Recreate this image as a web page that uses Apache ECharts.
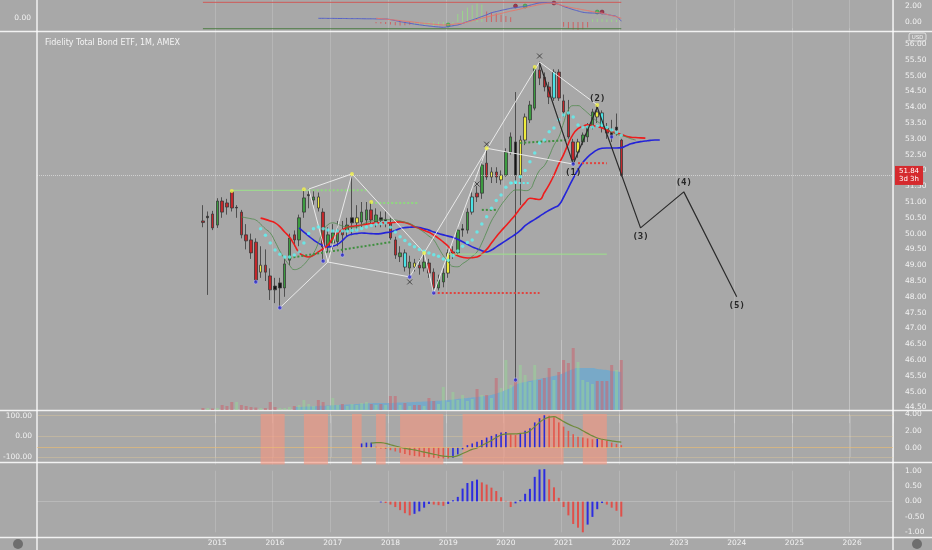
<!DOCTYPE html>
<html>
<head>
<meta charset="utf-8">
<title>Fidelity Total Bond ETF, 1M</title>
<script src="https://cdn.jsdelivr.net/npm/echarts/dist/echarts.min.js"></script>
<style>
    html, body { margin: 0; padding: 0; background: #a8a8a8; }
    #mainChart { width: 932px; height: 550px; }
</style>
</head>
<body>
<div id="mainChart"></div>
<script>
// month slots on the time axis: Dec 2011 .. Sep 2026, data starts Oct 2014
const firstIdx = 34;
const months = [];
for (let k = 0; k < 178; k++) {
    const m = 11 + k;
    months.push((2011 + Math.floor(m / 12)) + '-' + String(m % 12 + 1).padStart(2, '0'));
}

// ---- monthly candles, Oct 2014 .. Jan 2022 ----
const opens = [50.40,50.50,50.62,50.27,51.03,50.97,51.32,50.81,50.68,49.96,
    49.80,49.73,48.78,49.00,48.66,48.34,48.28,48.28,49.16,49.96,
    49.80,50.68,51.20,51.06,51.16,50.68,49.58,49.70,49.75,50.11,
    50.11,50.34,50.34,50.37,50.43,50.75,50.37,50.50,50.40,50.34,
    49.80,49.27,49.39,48.91,49.07,49.00,48.91,49.07,48.78,48.28,
    48.47,48.75,49.39,49.39,50.11,50.11,50.68,51.28,51.28,52.23,
    51.79,51.95,51.70,51.85,52.58,52.90,51.85,52.96,53.60,53.97,
    55.18,54.95,54.64,54.29,55.11,54.20,53.82,52.90,52.58,52.90,
    53.06,53.37,53.85,53.82,53.34,53.20,53.28,52.96];
const closes = [50.35,50.55,50.18,51.03,50.68,50.84,50.81,50.83,49.96,49.77,
    49.39,48.53,49.00,48.78,48.22,48.22,48.44,49.04,49.86,49.80,
    50.50,51.13,51.24,51.16,50.81,49.58,49.96,50.02,50.11,49.96,
    50.27,50.50,50.50,50.68,50.75,50.43,50.59,50.42,50.45,49.86,
    49.32,49.39,48.94,49.10,48.94,48.91,49.10,48.75,48.28,48.53,
    48.75,49.39,49.42,50.11,50.15,50.68,51.16,51.16,52.17,51.79,
    51.95,51.79,51.85,52.58,53.06,51.85,52.96,53.69,54.07,55.24,
    54.92,54.64,54.32,55.11,54.29,53.85,53.06,52.33,52.90,53.12,
    53.37,53.85,53.69,53.37,53.18,53.10,53.37,51.84];
const lows = [50.20,48.06,50.11,50.18,50.50,50.60,50.70,50.50,49.85,49.50,
    49.20,48.47,48.60,48.50,47.90,47.80,47.65,48.00,49.00,49.60,
    49.60,50.50,50.80,50.90,50.70,49.13,49.40,49.50,49.60,49.32,
    49.90,49.95,50.10,50.20,50.30,50.30,50.20,50.20,50.20,49.80,
    49.20,49.10,48.80,48.63,48.80,48.70,48.80,48.60,48.12,48.20,
    48.30,48.60,49.20,49.30,49.90,50.00,50.60,51.00,51.10,51.70,
    51.60,51.60,51.55,51.80,52.50,45.37,50.90,52.80,53.50,53.90,
    54.70,54.50,54.10,54.20,54.20,53.70,53.00,52.20,52.40,52.80,
    52.90,53.30,53.50,53.20,53.00,52.90,53.10,51.80];
const highs = [50.90,50.70,50.72,51.12,51.15,51.10,51.35,50.90,50.75,50.30,
    50.00,49.85,49.60,49.50,48.90,48.60,48.60,49.20,50.00,50.10,
    50.60,51.40,51.42,51.35,51.30,50.80,50.20,50.30,50.40,50.40,
    50.50,51.89,50.90,51.00,51.00,51.00,50.80,50.70,50.70,50.50,
    49.90,49.60,49.50,49.30,49.20,49.20,49.39,49.20,48.90,48.70,
    48.90,49.50,49.60,50.20,50.30,50.80,51.30,51.50,52.30,52.65,
    52.10,52.10,52.00,52.70,53.20,54.48,53.10,53.80,54.20,55.27,
    55.45,55.10,54.80,55.20,55.20,54.40,54.23,53.00,53.00,53.20,
    53.50,53.95,54.07,53.90,53.50,53.60,53.80,53.00];
// bar colouring of the study: r red, g green, y yellow, k black, c cyan
const candleTone = ('rkrgrrrkrr' + 'rryrrkkggr' + 'ggkgyrgggr' + 'gkyggrgkkr' + 'rgcgyrgrrg' +
    'gykgkgcrgr' + 'yryggkyygg' + 'rrrcrrrryg' + 'ggycrkkr').split('');
const volumes = [2,2,1.5,2,5,4,8,8,5,4,
    3,2.5,2,2,8,3,2,2,3,4,
    5,10,6,4,10,8,4,12,5,6,
    4,6,5,7,8,6,5,6,5,14,
    14,5,7,4,5,5,4,12,9,6,
    23,8,18,10,15,9,11,21,15,15,
    12,32,22,50,25,30,45,35,28,45,
    30,32,42,30,38,50,47,62,48,30,
    28,26,29,29,29,45,40,50];
const volMaStart = 19;
const volMa = [3,3,3.2,3.4,3.6,4,4.2,4.5,4.8,5,5.2,5.5,5.7,6,6.2,6.5,6.7,7,7,7,7,7.2,7.4,7.6,7.8,8,8.2,8.5,8.8,9,
    9.2,9.5,10,10.5,11,11.5,12,12.5,13,13.5,14,15,16.5,18,20,22,25,27,28,29,30,31,32,33,34,35,37,39,41,42,
    42,42,42,41,40.5,40,39,38.5,38];

// alligator style averages (displaced into the future)
const teethStart = 12;
const teeth = [50.49,50.45,50.40,50.34,50.22,50.05,49.89,49.65,49.40,49.30,
    49.26,49.32,49.42,49.52,49.64,49.85,50.02,50.12,50.20,50.23,
    50.25,50.27,50.30,50.32,50.34,50.34,50.34,50.34,50.36,50.37,
    50.35,50.30,50.22,50.16,50.10,50.04,49.95,49.85,49.73,49.60,
    49.40,49.30,49.25,49.23,49.24,49.26,49.36,49.50,49.70,49.90,
    50.08,50.25,50.42,50.60,50.80,50.98,51.12,51.10,51.08,51.30,
    51.55,51.85,52.20,52.50,52.85,53.15,53.32,53.40,53.44,53.42,
    53.38,53.34,53.28,53.22,53.18,53.14,53.08,53.05,53.04,53.03,53.02];
const jawStart = 20;
const jaw = [50.18,50.05,49.92,49.80,49.70,49.62,49.58,49.60,49.66,49.78,
    49.92,49.98,50.00,50.02,50.01,50.00,49.99,50.00,50.03,50.05,
    50.10,50.16,50.19,50.20,50.21,50.19,50.15,50.11,50.05,50.00,
    49.96,49.92,49.88,49.82,49.74,49.66,49.58,49.52,49.46,49.42,
    49.48,49.58,49.68,49.78,49.88,49.98,50.10,50.25,50.36,50.45,
    50.55,50.65,50.74,50.82,50.90,51.15,51.45,51.75,52.02,52.25,
    52.42,52.55,52.65,52.70,52.71,52.71,52.71,52.72,52.78,52.84,
    52.88,52.91,52.93,52.95,52.96,52.96];
const lipsStart = 8;
const lips = [50.53,50.50,50.47,50.43,50.30,50.15,50.02,49.75,49.45,49.20,
    49.00,48.86,48.90,49.02,49.20,49.38,49.70,50.10,50.28,50.34,
    50.30,50.24,50.21,50.20,50.21,50.28,50.35,50.39,50.42,50.43,
    50.44,50.44,50.43,50.40,50.36,50.32,50.24,50.14,50.04,49.92,
    49.80,49.55,49.30,49.10,48.96,48.95,49.05,49.15,49.28,49.42,
    49.70,50.05,50.40,50.65,50.90,51.10,51.28,51.38,51.38,51.36,
    51.40,51.70,52.00,52.15,52.45,52.80,53.05,53.50,53.92,54.05,
    54.05,53.95,53.82,53.68,53.55,53.45,53.32,53.22,53.15,53.10,
    53.06,53.00,52.96];
const cyanStart = 12;
const cyanDots = [50.15,49.95,49.70,49.48,49.35,49.26,49.26,49.32,49.42,49.70,
    50.00,50.15,50.21,50.15,50.11,50.08,50.08,50.08,50.08,50.10,
    50.11,50.16,50.21,50.26,50.30,50.32,50.34,50.20,50.05,49.90,
    49.78,49.66,49.58,49.50,49.44,49.39,49.33,49.28,49.20,49.16,
    49.30,49.45,49.60,49.72,49.80,50.05,50.30,50.53,50.80,51.05,
    51.22,51.47,51.60,51.63,51.80,52.00,52.27,52.55,52.87,52.96,
    53.22,53.34,53.60,53.75,53.82,53.69,53.44,53.37,53.37,53.37,
    53.40,53.44,53.36,53.28,53.20,53.12];

// level lines: [from month, to month, start price, end price, kind]
const levels = [
    [6, 22, 51.37, 51.37, 'lime'],
    [22, 34, 51.37, 51.37, 'limeDot'],
    [35, 45, 50.97, 50.97, 'limeDot'],
    [51, 84, 49.35, 49.35, 'lime'],
    [18, 39, 49.23, 49.73, 'greenDot'],
    [58, 61, 50.75, 50.75, 'greenDot'],
    [66, 76, 52.87, 52.96, 'greenDot'],
    [64, 68, 51.60, 51.60, 'cyanDot'],
    [48, 70, 48.12, 48.12, 'redDot'],
    [78, 84, 52.23, 52.23, 'redDot']
];
// pattern legs between pivots: [month, price] pairs
const patternLegs = [
    [[16, 47.65], [26, 49.10], [31, 51.89]],
    [[22, 51.41], [26, 49.10]],
    [[22, 51.41], [31, 51.89]],
    [[26, 49.10], [43, 48.63]],
    [[31, 51.89], [46, 49.39], [48, 48.12], [59, 52.70]],
    [[43, 48.63], [70, 55.43]],
    [[59, 52.70], [77, 52.20]],
    [[70, 55.43], [82, 54.07]]
];
const waveMonths = [70, 77, 82, 91, 100, 111];
const wavePrices = [55.40, 52.20, 54.00, 50.18, 51.32, 48.00];
const waveNames = ['', '(1)', '(2)', '(3)', '(4)', '(5)'];
const pivotHighs = [[6, 51.35], [21, 51.40], [31, 51.89], [35, 51.00], [46, 49.39], [59, 52.70], [69, 55.27], [82, 54.07]];
const pivotLows = [[11, 48.47], [16, 47.65], [25, 49.13], [29, 49.32], [43, 48.63], [48, 48.12], [65, 45.37], [77, 52.20], [85, 53.06]];
const crossMarks = [[43, 48.47], [57, 51.57], [59, 52.83], [70, 55.62]];
const lastPrice = 51.84;

// ---- top oscillator ----
const topUpper = 2.46, topLower = -0.84;
const topBlueStart = 24;
const topBlue = [0.46,0.46,0.45,0.45,0.44,0.44,0.43,0.42,0.42,0.41,
    0.40,0.40,0.39,0.38,0.37,0.30,0.18,0.05,-0.06,-0.16,
    -0.26,-0.35,-0.43,-0.50,-0.57,-0.62,-0.66,-0.58,-0.47,-0.37,
    -0.18,0.05,0.25,0.46,0.68,0.90,1.15,1.30,1.45,1.58,
    1.71,1.80,1.88,1.96,2.10,2.25,2.38,2.41,2.39,2.35,
    2.20,1.95,1.75,1.55,1.38,1.22,1.15,1.12,1.10,1.05,
    0.95,0.82,0.68,0.10];
const topSalmonStart = 36;
const topSalmon = [0.46,0.42,0.36,0.30,0.24,0.17,0.10,0.04,-0.03,-0.10,
    -0.16,-0.22,-0.28,-0.33,-0.37,-0.34,-0.28,-0.22,-0.16,0.00,
    0.15,0.32,0.48,0.62,0.76,0.92,1.07,1.22,1.36,1.48,
    1.62,1.78,1.92,2.05,2.18,2.28,2.34,2.30,2.18,2.02,
    1.88,1.75,1.65,1.53,1.42,1.30,1.18,1.10,0.95,0.80,
    0.64,0.46];
const topGreenA = [-0.35,-0.4,-0.45,-0.5,-0.5,-0.45,-0.4,-0.35,-0.3,1.0,1.4,1.8,2.1,2.3,2.2]; // from month 44
const topGreenB = [0.35,0.4,0.4,0.35,0.3,0.25];                                            // from month 81
const topRedA = [-0.15,-0.2,-0.25,-0.3,-0.4,-0.45,-0.4,-0.35];                             // from month 36
const topRedB = [1.3,1.2,1.05,0.9,0.75,0.6];                                                 // from month 59
const topRedC = [-0.6,-0.8,-0.95,-1.0,-0.9,-0.7];                                            // from month 75
const topDotsGreen = [[51, -0.37], [67, 2.0], [82, 1.25]];
const topDotsRed = [[65, 2.0], [73, 2.37], [83, 1.25]];

// ---- lower panels ----
const histStart = 33;
const hist = [0.5,0.6,0.6,0.1,-0.1,-0.15,-0.3,-0.45,-0.6,-0.75,
    -0.9,-1.0,-1.05,-1.1,-1.15,-1.2,-1.25,-1.28,-1.3,-1.2,
    -0.8,-0.2,0.3,0.5,0.7,0.9,1.2,1.4,1.6,1.8,
    1.85,1.6,1.5,1.7,2.0,2.3,3.0,3.5,3.85,3.8,
    3.6,3.0,2.5,2.0,1.6,1.3,1.2,1.1,1.0,1.05,
    0.9,0.8,0.6,0.45,0.3];
const signalStart = 35;
const signal = [0.55,0.6,0.6,0.5,0.35,0.2,0.05,-0.08,-0.18,-0.27,
    -0.4,-0.52,-0.65,-0.78,-0.9,-1.0,-1.05,-1.07,-0.95,-0.7,
    -0.45,-0.2,-0.04,0.25,0.55,0.85,1.2,1.5,1.62,1.65,
    1.65,1.7,1.75,2.0,2.5,3.0,3.4,3.62,3.68,3.45,
    3.1,2.8,2.55,2.34,2.0,1.7,1.4,1.15,1.0,0.9,
    0.8,0.71,0.65];
const pinkZones = [[12, 17], [21, 26], [31, 33], [36, 38], [41, 50], [54, 75], [79, 84]];
const oscStart = 37;
const osc = [-0.03,-0.05,-0.1,-0.18,-0.28,-0.38,-0.45,-0.4,-0.32,-0.2,
    -0.08,-0.1,-0.12,-0.14,-0.08,0.04,0.15,0.42,0.6,0.66,
    0.71,0.62,0.55,0.45,0.34,0.14,0.02,-0.18,-0.06,0.05,
    0.25,0.41,0.8,1.04,1.05,0.72,0.46,0.12,-0.18,-0.45,
    -0.73,-0.85,-1.0,-0.75,-0.5,-0.25,-0.05,-0.1,-0.2,-0.3,
    -0.49];

// helpers
function place(values, start) {
    return values.map((v, j) => [firstIdx + start + j, v]);
}
function pt(p) {
    return [firstIdx + p[0], p[1]];
}
function isYearStart(idx, val) {
    return val.slice(5) === '01' && Number(val.slice(0, 4)) >= 2015;
}
function risingColors(values, start, upColor, downColor) {
    return values.map((v, j) => ({
        value: [firstIdx + start + j, v],
        itemStyle: {color: (j === 0 || v >= values[j - 1]) ? upColor : downColor}
    }));
}

const labelFont = {color: '#f2f2f2', fontSize: 7.5, fontFamily: 'DejaVu Sans'};
const toneFill = {r: '#c3272b', g: '#3c9b40', y: '#efec3c', k: '#141414', c: '#4be3e6'};
const levelStyle = {
    lime: {color: '#9be28a', type: 'solid', width: 1},
    limeDot: {color: '#8fd97e', type: [2, 2], width: 2},
    greenDot: {color: '#3f8f3f', type: [2, 2], width: 2},
    cyanDot: {color: '#5ef0f0', type: [2, 2], width: 2},
    redDot: {color: '#e0443f', type: [2, 2], width: 2}
};

function makeXAxis(gridIndex, withLabels) {
    return {
        type: 'category', gridIndex: gridIndex, data: months, boundaryGap: true,
        axisLine: {show: false}, axisTick: {show: false},
        axisLabel: withLabels ? Object.assign({interval: isYearStart, formatter: v => v.slice(0, 4), margin: 7}, labelFont) : {show: false},
        splitLine: {show: true, interval: isYearStart, lineStyle: {color: 'rgba(255,255,255,0.17)', width: 1}}
    };
}

const grids = [
    {left: 37, right: 39, top: 0, height: 30},
    {left: 37, right: 39, top: 28.2, height: 395},
    {left: 37, right: 39, top: 340, height: 70},
    {left: 37, right: 39, top: 414, height: 50.5},
    {left: 37, right: 39, top: 415.7, height: 41.3},
    {left: 37, right: 39, top: 470.7, height: 61.6}
];

const yAxes = [
    {type: 'value', gridIndex: 0, position: 'right', min: -1, max: 2.75, interval: 1,
        axisLabel: Object.assign({margin: 12, showMaxLabel: false, formatter: v => (v === 0 || v === 2) ? v.toFixed(2) : ''}, labelFont),
        splitLine: {show: false}, axisLine: {show: false}, axisTick: {show: false}},
    {type: 'value', gridIndex: 0, position: 'left', min: -1, max: 1.44, interval: 1,
        axisLabel: Object.assign({margin: 6, showMaxLabel: false, formatter: v => v === 0 ? '0.00' : ''}, labelFont),
        splitLine: {show: false}, axisLine: {show: false}, axisTick: {show: false}},
    {type: 'value', gridIndex: 1, position: 'right', min: 44, max: 56.5, interval: 0.5,
        axisLabel: Object.assign({margin: 12, showMinLabel: false, showMaxLabel: false, formatter: v => v.toFixed(2)}, labelFont),
        splitLine: {show: false}, axisLine: {show: false}, axisTick: {show: false}},
    {type: 'value', gridIndex: 2, min: 0, max: 70, show: false},
    {type: 'value', gridIndex: 3, position: 'right', min: -2, max: 4, interval: 2,
        axisLabel: Object.assign({margin: 12, showMinLabel: false, formatter: v => v.toFixed(2)}, labelFont),
        splitLine: {show: false}, axisLine: {show: false}, axisTick: {show: false}},
    {type: 'value', gridIndex: 4, position: 'left', min: -100, max: 100, interval: 100,
        axisLabel: Object.assign({margin: 6, formatter: v => v.toFixed(2)}, labelFont),
        splitLine: {show: true, lineStyle: {color: 'rgba(235,205,150,0.35)', width: 1}},
        axisLine: {show: false}, axisTick: {show: false}},
    {type: 'value', gridIndex: 5, position: 'right', min: -1, max: 1, interval: 0.5,
        axisLabel: Object.assign({margin: 12, formatter: v => v.toFixed(2)}, labelFont),
        splitLine: {show: false}, axisLine: {show: false}, axisTick: {show: false}}
];

const series = [];

// top oscillator panel
series.push({type: 'line', xAxisIndex: 0, yAxisIndex: 0, symbol: 'none', silent: true,
    data: [[firstIdx, topUpper], [firstIdx + 87, topUpper]], lineStyle: {color: '#cf5a58', width: 1}});
series.push({type: 'line', xAxisIndex: 0, yAxisIndex: 0, symbol: 'none', silent: true,
    data: [[firstIdx, topLower], [firstIdx + 87, topLower]], lineStyle: {color: '#4d7d45', width: 1}});
series.push({type: 'bar', xAxisIndex: 0, yAxisIndex: 0, barWidth: 1, silent: true,
    data: place(topGreenA, 44).concat(place(topGreenB, 81)), itemStyle: {color: 'rgba(150,225,130,0.8)'}});
series.push({type: 'bar', xAxisIndex: 0, yAxisIndex: 0, barWidth: 1, barGap: '-100%', silent: true,
    data: place(topRedA, 36).concat(place(topRedB, 59), place(topRedC, 75)), itemStyle: {color: 'rgba(215,80,80,0.8)'}});
series.push({type: 'line', xAxisIndex: 0, yAxisIndex: 0, symbol: 'none', smooth: true, silent: true,
    data: place(topBlue, topBlueStart), lineStyle: {color: '#5460c8', width: 1}});
series.push({type: 'line', xAxisIndex: 0, yAxisIndex: 0, symbol: 'none', smooth: true, silent: true,
    data: place(topSalmon, topSalmonStart), lineStyle: {color: '#e5786c', width: 1}});
series.push({type: 'scatter', xAxisIndex: 0, yAxisIndex: 0, symbolSize: 4, silent: true,
    data: topDotsGreen.map(pt), itemStyle: {color: '#3fbf4a', borderColor: '#2a6e2a', borderWidth: 0.5}});
series.push({type: 'scatter', xAxisIndex: 0, yAxisIndex: 0, symbolSize: 4, silent: true,
    data: topDotsRed.map(pt), itemStyle: {color: '#9a1e3a', borderColor: '#5a1020', borderWidth: 0.5}});

// volume with its average
series.push({type: 'line', xAxisIndex: 2, yAxisIndex: 3, symbol: 'none', smooth: true, silent: true, z: 1,
    data: place(volMa, volMaStart), lineStyle: {width: 0}, areaStyle: {color: 'rgba(88,170,222,0.85)'}});
series.push({type: 'bar', xAxisIndex: 2, yAxisIndex: 3, barWidth: 3, silent: true, z: 2,
    data: volumes.map((v, i) => ({
        value: [firstIdx + i, v],
        itemStyle: {color: closes[i] >= opens[i] ? 'rgba(150,215,150,0.5)' : 'rgba(200,105,115,0.6)'}
    }))});

// price
series.push({
    type: 'candlestick', xAxisIndex: 1, yAxisIndex: 2, barWidth: 3, z: 3, silent: true,
    encode: {x: 0, y: [1, 2, 3, 4]},
    data: opens.map((o, i) => {
        const fill = toneFill[candleTone[i]];
        return {
            value: [firstIdx + i, o, closes[i], lows[i], highs[i]],
            itemStyle: {color: fill, color0: fill, borderColor: '#3a3a3a', borderColor0: '#3a3a3a', borderWidth: 0.8}
        };
    }),
    markLine: {
        symbol: 'none', silent: true, animation: false,
        data: [{yAxis: lastPrice}],
        lineStyle: {color: 'rgba(240,240,240,0.55)', type: 'dotted', width: 1},
        label: {position: 'end', distance: 2, formatter: '51.84\n3d 3h', color: '#ffffff',
            backgroundColor: '#d52a2e', padding: [2, 4, 1, 4], fontSize: 7, lineHeight: 8, fontFamily: 'DejaVu Sans'}
    }
});
[[jaw, jawStart, '#2424d8', 1.6], [teeth, teethStart, '#ee1c1c', 1.6], [lips, lipsStart, '#4f8a4c', 0.8]].forEach(s => {
    series.push({type: 'line', xAxisIndex: 1, yAxisIndex: 2, symbol: 'none', smooth: true, silent: true, z: 4,
        data: place(s[0], s[1]), lineStyle: {color: s[2], width: s[3]}});
});
series.push({type: 'scatter', xAxisIndex: 1, yAxisIndex: 2, symbolSize: 3.5, silent: true, z: 5,
    data: place(cyanDots, cyanStart), itemStyle: {color: '#5ef2f2'}});
levels.forEach(l => {
    series.push({type: 'line', xAxisIndex: 1, yAxisIndex: 2, symbol: 'none', silent: true, z: 4,
        data: [[firstIdx + l[0], l[2]], [firstIdx + l[1], l[3]]], lineStyle: levelStyle[l[4]]});
});
patternLegs.forEach(leg => {
    series.push({type: 'line', xAxisIndex: 1, yAxisIndex: 2, symbol: 'none', silent: true, z: 4,
        data: leg.map(pt), lineStyle: {color: 'rgba(245,245,245,0.85)', width: 1}});
});
// elliott count, labels hang off invisible symbols
series.push({type: 'line', xAxisIndex: 1, yAxisIndex: 2, silent: true, z: 6,
    symbol: 'circle', symbolSize: 1, showAllSymbol: true,
    itemStyle: {color: 'rgba(0,0,0,0)'},
    lineStyle: {color: '#2b2b2b', width: 1.2},
    data: waveMonths.map((m, i) => ({
        value: [firstIdx + m, wavePrices[i]],
        label: {show: waveNames[i] !== '', formatter: waveNames[i], position: (i % 2 === 1) ? 'bottom' : 'top',
            distance: 4, color: '#262626', fontSize: 9, fontWeight: 'bold', fontFamily: 'DejaVu Sans Mono'}
    }))});
series.push({type: 'scatter', xAxisIndex: 1, yAxisIndex: 2, symbolSize: 4, silent: true, z: 6,
    data: pivotHighs.map(pt), itemStyle: {color: '#f2f24a'}});
series.push({type: 'scatter', xAxisIndex: 1, yAxisIndex: 2, symbolSize: 4, silent: true, z: 6,
    data: pivotLows.map(pt), itemStyle: {color: '#2a2ad0', borderColor: '#d8d8ff', borderWidth: 0.5}});
series.push({type: 'scatter', xAxisIndex: 1, yAxisIndex: 2, symbol: 'path://M0,0L10,10M10,0L0,10', symbolSize: 5, silent: true, z: 6,
    data: crossMarks.map(pt), itemStyle: {color: 'none', borderColor: '#303030', borderWidth: 1}});

// middle panel: zones, histogram and its signal
series.push({type: 'line', xAxisIndex: 3, yAxisIndex: 4, data: [], silent: true, z: 0,
    markArea: {silent: true, itemStyle: {color: 'rgba(246,150,128,0.62)'},
        data: pinkZones.map(z => [{xAxis: months[firstIdx + z[0]]}, {xAxis: months[firstIdx + z[1]]}])}});
series.push({type: 'bar', xAxisIndex: 3, yAxisIndex: 4, barWidth: 1.6, silent: true, z: 2,
    data: risingColors(hist, histStart, '#2a2ad8', '#e2584c'),
    markLine: {symbol: 'none', silent: true, data: [{yAxis: 0}], label: {show: false},
        lineStyle: {color: 'rgba(240,190,110,0.6)', type: 'solid', width: 1}}});
series.push({type: 'line', xAxisIndex: 3, yAxisIndex: 4, symbol: 'none', smooth: true, silent: true, z: 3,
    data: place(signal, signalStart), lineStyle: {color: '#6f8a3a', width: 1.2}});
series.push({type: 'line', xAxisIndex: 4, yAxisIndex: 5, data: [], silent: true});

// bottom panel
series.push({type: 'bar', xAxisIndex: 5, yAxisIndex: 6, barWidth: 2, silent: true, clip: false,
    data: risingColors(osc, oscStart, '#2c2ce0', '#e0504a'),
    markLine: {symbol: 'none', silent: true, data: [{yAxis: 0}], label: {show: false},
        lineStyle: {color: 'rgba(255,255,255,0.2)', type: 'solid', width: 1}}});

const sepStyle = {stroke: 'rgba(255,255,255,0.85)', lineWidth: 1.5};
const option = {
    backgroundColor: '#a8a8a8',
    animation: false,
    textStyle: {fontFamily: 'DejaVu Sans'},
    title: {text: 'Fidelity Total Bond ETF, 1M, AMEX', left: 40, top: 34,
        textStyle: {color: '#f4f4f4', fontSize: 8, fontWeight: 'normal', fontFamily: 'DejaVu Sans'}},
    grid: grids,
    xAxis: [makeXAxis(0, false), makeXAxis(1, false), makeXAxis(2, false), makeXAxis(3, false), makeXAxis(4, false), makeXAxis(5, true)],
    yAxis: yAxes,
    series: series,
    graphic: [
        {type: 'line', shape: {x1: 0, y1: 31.5, x2: 932, y2: 31.5}, style: sepStyle, silent: true},
        {type: 'line', shape: {x1: 0, y1: 410.5, x2: 932, y2: 410.5}, style: sepStyle, silent: true},
        {type: 'line', shape: {x1: 0, y1: 462.5, x2: 932, y2: 462.5}, style: sepStyle, silent: true},
        {type: 'line', shape: {x1: 0, y1: 537.5, x2: 932, y2: 537.5}, style: sepStyle, silent: true},
        {type: 'line', shape: {x1: 37, y1: 0, x2: 37, y2: 550}, style: sepStyle, silent: true},
        {type: 'line', shape: {x1: 893, y1: 0, x2: 893, y2: 550}, style: sepStyle, silent: true},
        {type: 'rect', shape: {x: 909, y: 33, width: 17, height: 8, r: 2}, style: {fill: 'none', stroke: '#eeeeee', lineWidth: 0.8}, silent: true},
        {type: 'text', x: 917.5, y: 37, style: {text: 'USD', fill: '#f2f2f2', fontSize: 5.5, align: 'center', verticalAlign: 'middle'}, silent: true},
        {type: 'circle', shape: {cx: 18, cy: 544, r: 5}, style: {fill: '#6e6e6e'}, silent: true},
        {type: 'circle', shape: {cx: 917, cy: 544, r: 5}, style: {fill: '#6e6e6e'}, silent: true}
    ]
};

const myChart = echarts.init(document.getElementById('mainChart'));
myChart.setOption(option);
</script>
</body>
</html>
